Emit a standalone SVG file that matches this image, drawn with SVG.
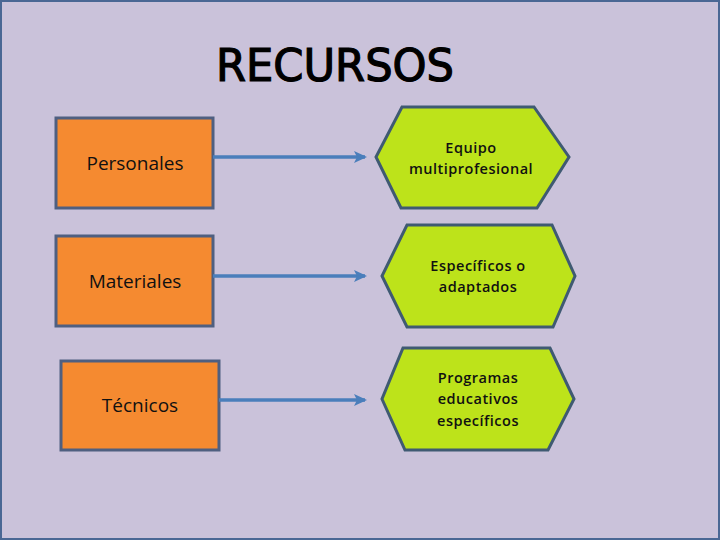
<svg xmlns="http://www.w3.org/2000/svg" width="720" height="540" viewBox="0 0 720 540">
<defs>
<marker id="ah" markerWidth="14" markerHeight="14" refX="11" refY="7" orient="auto" markerUnits="userSpaceOnUse">
<path d="M0,1 L13,7 L0,13 L3,7 Z" fill="#4A7EBB"/>
</marker>
</defs>
<style>
.box{fill:#F58A30;stroke:#4F5F80;stroke-width:3}
.hex{fill:#BDE31A;stroke:#3F5A72;stroke-width:3}
.lbl{font-family:"Open Sans","Liberation Sans",sans-serif;font-size:19px;font-weight:500;fill:#111;text-anchor:middle}
.hl{font-family:"Open Sans","DejaVu Sans",sans-serif;font-size:14.5px;font-weight:600;fill:#111;text-anchor:middle;letter-spacing:0.5px}
.con{stroke:#4A7EBB;stroke-width:3.5;fill:none}
</style>
<rect x="1" y="1" width="718" height="538" fill="#CAC2DA" stroke="#4A6794" stroke-width="2"/>
<text x="335" y="81" font-family="'DejaVu Sans',sans-serif" font-size="44" fill="#000" stroke="#000" stroke-width="1.2" text-anchor="middle" textLength="238" lengthAdjust="spacingAndGlyphs">RECURSOS</text>
<g id="personales"><rect class="box" x="56" y="118" width="157" height="90"/><text class="lbl" x="135" y="170">Personales</text></g>
<g id="materiales"><rect class="box" x="56" y="236" width="157" height="90"/><text class="lbl" x="135" y="288">Materiales</text></g>
<g id="tecnicos"><rect class="box" x="61" y="361" width="158" height="89"/><text class="lbl" x="140" y="412">Técnicos</text></g>
<g id="equipo"><polygon class="hex" points="402,107 534,107 569,157 537,208 401,208 376,157"/><text class="hl" x="471" y="153">Equipo</text><text class="hl" x="471" y="174">multiprofesional</text></g>
<g id="especificos"><polygon class="hex" points="407,225 552,225 575,276 553,327 407,327 382,276"/><text class="hl" x="478" y="271">Específicos o</text><text class="hl" x="478" y="292">adaptados</text></g>
<g id="programas"><polygon class="hex" points="403,348 550,348 574,399 548,450 405,450 382,399"/><text class="hl" x="478" y="383">Programas</text><text class="hl" x="478" y="404">educativos</text><text class="hl" x="478" y="426">específicos</text></g>
<g id="connectors">
<line class="con" x1="213" y1="157" x2="365" y2="157" marker-end="url(#ah)"/>
<line class="con" x1="213" y1="276" x2="365" y2="276" marker-end="url(#ah)"/>
<line class="con" x1="219" y1="400" x2="365" y2="400" marker-end="url(#ah)"/>
</g>
</svg>
